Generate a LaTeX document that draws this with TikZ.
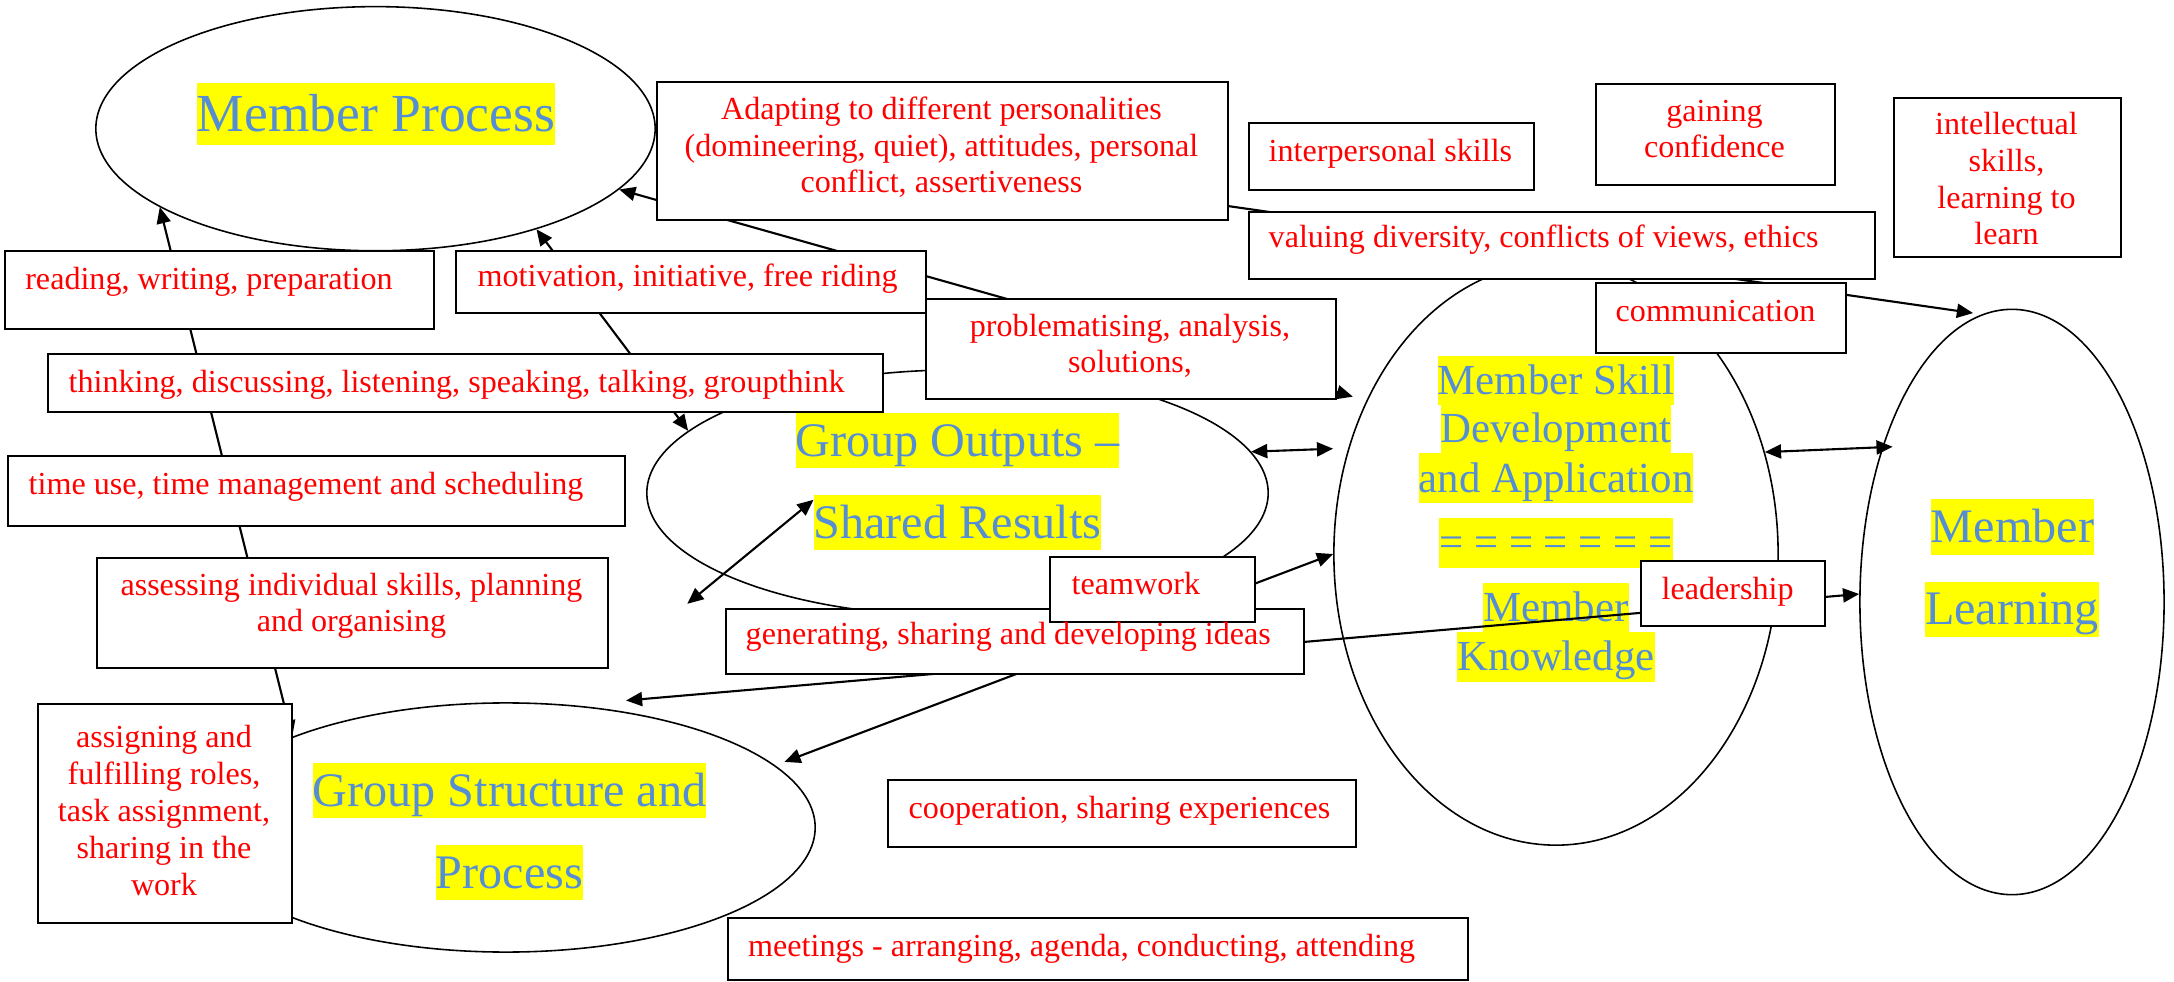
\documentclass[tikz,border=0pt]{standalone}
\usepackage{fontspec}
\setmainfont{Liberation Serif}[Ligatures=NoCommon]
\usetikzlibrary{arrows.meta,shapes.geometric}
\definecolor{redtxt}{RGB}{255,0,0}
\definecolor{bluetxt}{RGB}{85,142,213}
\definecolor{hlyellow}{RGB}{255,255,0}
\begin{document}
\begin{tikzpicture}[x=0.01cm,y=-0.01cm,
  >={Triangle[length=4.6pt,width=4pt]},
  oval/.style={draw, ellipse, line width=0.45pt, inner sep=0pt},
  box/.style={draw, fill=white, line width=0.55pt, inner sep=0pt, anchor=north west},
  rtxt/.style={text=redtxt, inner sep=0pt, font=\fontsize{9.13}{10.5}\selectfont},
  rleft/.style={rtxt, anchor=base west},
  rcent/.style={rtxt, anchor=base, align=center},
  hl/.style={fill=hlyellow, text=bluetxt, inner sep=0pt, anchor=base},
  hlA/.style={hl, font=\fontsize{15.22}{17.5}\selectfont, text height=13.7pt, text depth=3.8pt},
  hlB/.style={hl, font=\fontsize{13.70}{15.75}\selectfont, text height=12.33pt, text depth=3.43pt},
  hlC/.style={hl, font=\fontsize{12.18}{14}\selectfont, text height=10.96pt, text depth=3.05pt},
  conn/.style={line width=0.6pt}
]
\useasboundingbox (0,0) rectangle (2174,982);
% ---------- ellipses ----------
\node[oval, minimum width=5.59cm, minimum height=2.44cm] (mp) at (375.5,128.7) {};
\node[oval, minimum width=6.21cm, minimum height=2.46cm] (go) at (957.5,493) {};
\node[oval, minimum width=6.18cm, minimum height=2.49cm] (gsp) at (506,827.5) {};
\node[oval, minimum width=4.44cm, minimum height=5.82cm] (msd) at (1556,554) {};
\node[oval, minimum width=3.04cm, minimum height=5.85cm] (ml) at (2012,602) {};
% ---------- ellipse texts ----------
\node[hlA] (mpT) at (376,131.2) {Member Process};
\node[hlB] (goT1) at (957.5,456.3) {Group Outputs \textendash};
\node[hlB] (goT2) at (957.5,538.3) {Shared Results};
\node[hlB] (gspT1) at (509.5,806.3) {Group Structure and};
\node[hlB] (gspT2) at (509.5,888.3) {Process};
\node[hlB] (mlT1) at (2012.5,542.8) {Member};
\node[hlB] (mlT2) at (2012,625) {Learning};
\node[hlC] (msdT1) at (1556,394.5) {Member Skill};
\node[hlC] (msdT2) at (1556,442.5) {Development};
\node[hlC] (msdT3) at (1556,492) {and Application};
\node[hlC] (msdT4) at (1556,557) {= = = = = = =};
\node[hlC] (msdT5) at (1556,622) {Member};
\node[hlC] (msdT6) at (1556,671) {Knowledge};
% ---------- connectors ----------
\coordinate (gspL) at (626,700.5);
\coordinate (ga) at (687.3,603.8);
\coordinate (gb) at (813.5,499.8);
\draw[conn,<->] (gsp.157.4) -- (mp.200.5);
\draw[conn,<->] (go.167.1) -- (mp.328.6);
\draw[conn,<->,shorten >=4pt] (mp.346.7) -- (msd.141.3);
\draw[conn,->,shorten >=2.5pt] (mp.1.4) -- (ml.96);
\draw[conn,<->,shorten >=4.3pt] (go.8.2) -- (msd.153.6);
\draw[conn,<->,shorten >=-3pt] (msd.26.4) -- (ml.130.8);
\draw[conn,<->] (gspL) -- (ml.177.7);
\draw[conn,<->,shorten <=2.8pt] (gsp.13.3) -- (msd.180.5);
\draw[conn,<->] (ga) -- (gb);
% ---------- boxes ----------
\node[box, minimum width=5.71cm, minimum height=1.38cm] (adapt) at (656,81) {};
\node[box, minimum width=2.85cm, minimum height=0.67cm] (interp) at (1248,122) {};
\node[box, minimum width=2.39cm, minimum height=1.01cm] (gain) at (1595,83) {};
\node[box, minimum width=2.27cm, minimum height=1.59cm] (intel) at (1893,97) {};
\node[box, minimum width=6.26cm, minimum height=0.67cm] (valuing) at (1248,211) {};
\node[box, minimum width=2.50cm, minimum height=0.70cm] (comm) at (1595,282) {};
\node[box, minimum width=4.285cm, minimum height=0.78cm] (reading) at (4.5,250) {};
\node[box, minimum width=4.70cm, minimum height=0.62cm] (motiv) at (455,250) {};
\node[box, minimum width=4.10cm, minimum height=1.00cm] (probl) at (925,298) {};
\node[box, minimum width=8.35cm, minimum height=0.58cm] (think) at (47,353) {};
\node[box, minimum width=6.17cm, minimum height=0.70cm] (timeuse) at (7,455) {};
\node[box, minimum width=5.11cm, minimum height=1.10cm] (assess) at (96,557) {};
\node[box, minimum width=2.54cm, minimum height=2.19cm] (assign) at (37,703) {};
\node[box, minimum width=5.78cm, minimum height=0.65cm] (gen) at (725,608) {};
\node[box, minimum width=2.05cm, minimum height=0.65cm] (team) at (1049,556) {};
\node[box, minimum width=1.84cm, minimum height=0.65cm] (lead) at (1640,560) {};
\node[box, minimum width=4.68cm, minimum height=0.67cm] (coop) at (887,779) {};
\node[box, minimum width=7.40cm, minimum height=0.62cm] (meet) at (727,917) {};
% ---------- box texts (multi-line nodes anchored at last baseline) ----------
\node[rcent] (adaptT) at (941.5,193) {Adapting to different personalities\\(domineering, quiet), attitudes, personal\\conflict, assertiveness};
\node[rleft] (interpT) at (1268,162) {interpersonal skills};
\node[rcent] (gainT) at (1714.5,158) {gaining\\confidence};
\node[rcent] (intelT) at (2006.5,245) {intellectual\\skills,\\learning to\\learn};
\node[rleft] (valuingT) at (1268,248) {valuing diversity, conflicts of views, ethics};
\node[rleft] (commT) at (1615,322) {communication};
\node[rleft] (readingT) at (24.6,290) {reading, writing, preparation};
\node[rleft] (motivT) at (477,287) {motivation, initiative, free riding};
\node[rcent] (problT) at (1130,373) {problematising, analysis,\\solutions,};
\node[rleft] (thinkT) at (68,392.5) {thinking, discussing, listening, speaking, talking, groupthink};
\node[rleft] (timeuseT) at (28,494.6) {time use, time management and scheduling};
\node[rcent] (assessT) at (351.5,632) {assessing individual skills, planning\\and organising};
\node[rcent] (assignT) at (164,895) {assigning and\\fulfilling roles,\\task assignment,\\sharing in the\\work};
\node[rleft] (genT) at (745,645) {generating, sharing and developing ideas};
\node[rleft] (teamT) at (1071,595) {teamwork};
\node[rleft] (leadT) at (1661,600) {leadership};
\node[rleft] (coopT) at (908,818) {cooperation, sharing experiences};
\node[rleft] (meetT) at (747.5,956) {meetings - arranging, agenda, conducting, attending};
\end{tikzpicture}
\end{document}
